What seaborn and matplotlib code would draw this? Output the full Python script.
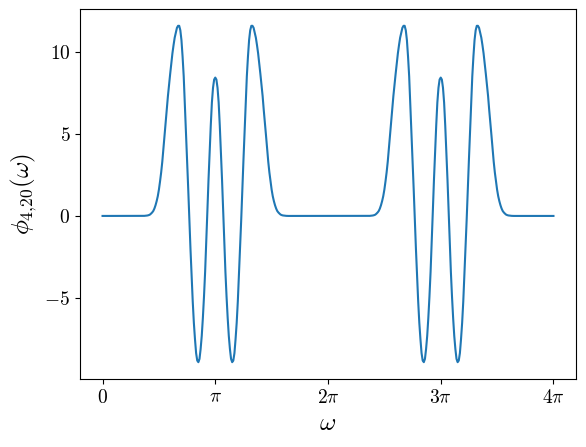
import numpy as np
import pandas as pd
import matplotlib
matplotlib.use("Agg")
import matplotlib.pyplot as plt
from matplotlib.ticker import FuncFormatter
import seaborn as sns

# omega offsets (in units of pi) from the centre of each bump
bump_offsets = [
    -0.68, -0.67, -0.66, -0.65, -0.64, -0.63, -0.62, -0.61, -0.60, -0.59,
    -0.58, -0.57, -0.56, -0.55, -0.54, -0.53, -0.52, -0.51, -0.50, -0.49,
    -0.48, -0.47, -0.46, -0.45, -0.44, -0.43, -0.42, -0.41, -0.40, -0.39,
    -0.38, -0.37, -0.36, -0.35, -0.34, -0.33, -0.32, -0.31, -0.30, -0.29,
    -0.28, -0.27, -0.26, -0.25, -0.24, -0.23, -0.22, -0.21, -0.20, -0.19,
    -0.18, -0.17, -0.16, -0.15, -0.14, -0.13, -0.12, -0.11, -0.10, -0.09,
    -0.08, -0.07, -0.06, -0.05, -0.04, -0.03, -0.02, -0.01, 0.00,
    0.01, 0.02, 0.03, 0.04, 0.05, 0.06, 0.07, 0.08, 0.09, 0.10,
    0.11, 0.12, 0.13, 0.14, 0.15, 0.16, 0.17, 0.18, 0.19, 0.20,
    0.21, 0.22, 0.23, 0.24, 0.25, 0.26, 0.27, 0.28, 0.29, 0.30,
    0.31, 0.32, 0.33, 0.34, 0.35, 0.36, 0.37, 0.38, 0.39, 0.40,
    0.41, 0.42, 0.43, 0.44, 0.45, 0.46, 0.47, 0.48, 0.49, 0.50,
    0.51, 0.52, 0.53, 0.54, 0.55, 0.56, 0.57, 0.58, 0.59, 0.60,
    0.61, 0.62, 0.63, 0.64, 0.65, 0.66, 0.67, 0.68,
]
# phi values at those offsets
bump_values = [
    0, 0, 0, 0, 0, 0.005, 0.01, 0.02, 0.03, 0.05,
    0.08, 0.14, 0.21, 0.30, 0.45, 0.65, 0.9, 1.2, 1.6, 2.1,
    2.65, 3.3, 4.1, 4.9, 5.7, 6.45, 7.3, 8.0, 8.65, 9.3,
    9.9, 10.4, 10.85, 11.15, 11.45, 11.57, 11.57, 11.3, 10.7, 9.7,
    8.5, 6.8, 5.1, 3.4, 1.65, -0.25, -2.0, -3.6, -5.2, -6.5,
    -7.5, -8.35, -8.8, -8.9, -8.7, -8.1, -7.3, -6.2, -4.9, -3.4,
    -1.6, 0.3, 2.2, 3.9, 5.5, 6.9, 7.8, 8.3, 8.42,
    8.3, 7.8, 6.9, 5.5, 3.9, 2.2, 0.3, -1.6, -3.4, -4.9,
    -6.2, -7.3, -8.1, -8.7, -8.9, -8.8, -8.35, -7.5, -6.5, -5.2,
    -3.6, -2.0, -0.25, 1.65, 3.4, 5.1, 6.8, 8.5, 9.7, 10.7,
    11.3, 11.57, 11.57, 11.45, 11.15, 10.85, 10.4, 9.9, 9.3, 8.65,
    8.0, 7.3, 6.45, 5.7, 4.9, 4.1, 3.3, 2.65, 2.1, 1.6,
    1.2, 0.9, 0.65, 0.45, 0.30, 0.21, 0.14, 0.08, 0.05, 0.03,
    0.02, 0.01, 0.005, 0, 0, 0, 0, 0,
]
bump_centers = [1, 3]          # in units of pi
domain_ends = [0, 4]           # in units of pi, curve is flat zero there
xtick_multiples = [0, 1, 2, 3, 4]
xtick_labels = [r"$0$", r"$\pi$", r"$2\pi$", r"$3\pi$", r"$4\pi$"]

omega = [domain_ends[0] * np.pi]
phi = [0.0]
for c in bump_centers:
    for d, v in zip(bump_offsets, bump_values):
        omega.append((c + d) * np.pi)
        phi.append(v)
omega.append(domain_ends[1] * np.pi)
phi.append(0.0)
df = pd.DataFrame({"omega": omega, "phi": phi})

plt.rcParams["mathtext.fontset"] = "cm"
plt.rcParams["font.family"] = ["DejaVu Serif"]

fig = plt.figure(figsize=(5.86, 4.47), dpi=100)
ax = fig.add_axes([80 / 586, (447 - 379) / 447, 496 / 586, 370 / 447])
sns.lineplot(data=df, x="omega", y="phi", sort=False, estimator=None,
             color="#1f77b4", linewidth=1.5, ax=ax)

ax.set_xticks([m * np.pi for m in xtick_multiples])
ax.set_xticklabels(xtick_labels)
ax.set_yticks([-5, 0, 5, 10])
ax.yaxis.set_major_formatter(FuncFormatter(lambda v, p: r"$%d$" % int(round(v))))
ax.tick_params(labelsize=14)
ax.set_xlabel(r"$\omega$", fontsize=18)
ax.set_ylabel(r"$\phi_{4{,}20}(\omega)$", fontsize=18)

fig.savefig("out.png", dpi=100)
